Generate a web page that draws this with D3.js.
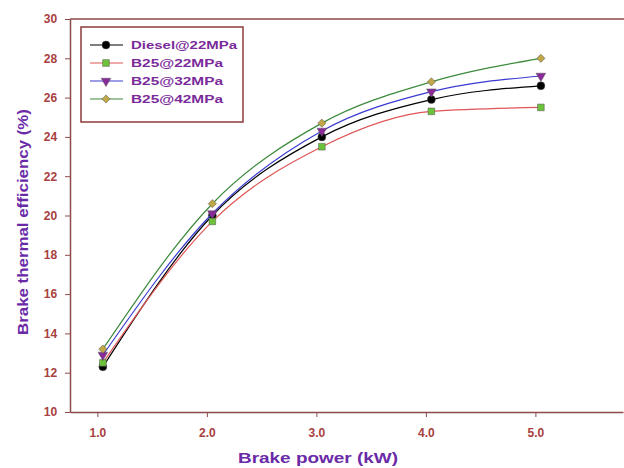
<!DOCTYPE html>
<html>
<head>
<meta charset="utf-8">
<script src="https://cdn.jsdelivr.net/npm/d3@7"></script>
<style>
  body { margin: 0; background: #fff; }
  text { font-family: "Liberation Sans", Arial, sans-serif; font-weight: bold; }
</style>
</head>
<body>
<div id="chart"></div>
<script>

// data

var brakePower = [1.05, 2.05, 3.05, 4.05, 5.05];
var xTicks = [1, 2, 3, 4, 5];
var yTicks = [10, 12, 14, 16, 18, 20, 22, 24, 26, 28, 30];

var seriesNames = ["Diesel@22MPa", "B25@22MPa", "B25@32MPa", "B25@42MPa"];
var diesel22 = [12.3, 20.0, 24.0, 25.9, 26.6];
var b25_22 = [12.5, 19.7, 23.5, 25.3, 25.5];
var b25_32 = [12.9, 20.1, 24.3, 26.3, 27.1];
var b25_42 = [13.2, 20.6, 24.7, 26.8, 28.0];

// styles for each series

var lineColors = ["#000000", "#e05555", "#3a3ad0", "#3c8a3c"];
var markerColors = ["#000000", "#6cc23a", "#8a2a9a", "#c0a848"];
var markerShapes = [d3.symbolCircle, d3.symbolSquare, d3.symbolTriangle, d3.symbolSquare];
var markerSizes = [50, 45, 40, 34];
var markerRotate = [0, 0, 180, 45];

var width = 624,
    height = 468,
    marginLeft = 70,
    marginTop = 19,
    marginRight = 1,
    marginBottom = 56;

var axisColor = "#8c4a4a",
    tickColor = "#a84040",
    titleColor = "#6a2aa8",
    legendText = "#7a2a9a";

var svg = d3.select("#chart")
  .append("svg")
    .attr("width", width)
    .attr("height", height);

// scales

var xScale = d3.scaleLinear().domain([0.75, 5.8]).range([marginLeft, width - marginRight]);
var yScale = d3.scaleLinear().domain([10, 30]).range([height - marginBottom, marginTop]);

// axes

var xAxis = svg.append("g")
  .attr("transform", "translate(0," + (height - marginBottom) + ")")
  .call(d3.axisBottom(xScale).tickValues(xTicks).tickFormat(d3.format(".1f")).tickSize(5).tickSizeOuter(0));

var yAxis = svg.append("g")
  .attr("transform", "translate(" + marginLeft + ",0)")
  .call(d3.axisLeft(yScale).tickValues(yTicks).tickSize(5).tickSizeOuter(0));

[xAxis, yAxis].forEach(function(ax) {
  ax.select(".domain").attr("stroke", axisColor).attr("stroke-width", 1.5);
  ax.selectAll(".tick line").attr("stroke", axisColor);
  ax.selectAll(".tick text").attr("fill", tickColor).style("font-size", "12px");
});
xAxis.selectAll(".tick text").attr("dy", "1.4em");
yAxis.selectAll(".tick text").attr("dx", "-0.4em");

// top frame line

svg.append("line")
  .attr("x1", marginLeft).attr("x2", width)
  .attr("y1", marginTop).attr("y2", marginTop)
  .attr("stroke", axisColor)
  .attr("stroke-width", 1.5);

// axis titles

svg.append("text")
  .attr("x", 318)
  .attr("y", height - 5)
  .attr("text-anchor", "middle")
  .attr("fill", titleColor)
  .attr("textLength", 160)
  .attr("lengthAdjust", "spacingAndGlyphs")
  .style("font-size", "15px")
  .text("Brake power (kW)");

svg.append("text")
  .attr("transform", "translate(28,222) rotate(-90)")
  .attr("text-anchor", "middle")
  .attr("fill", titleColor)
  .attr("textLength", 226)
  .attr("lengthAdjust", "spacingAndGlyphs")
  .style("font-size", "15px")
  .text("Brake thermal efficiency (%)");

// lines and markers

var allSeries = [diesel22, b25_22, b25_32, b25_42];

var line = d3.line()
  .x(function(d, i) { return xScale(brakePower[i]); })
  .y(function(d) { return yScale(d); })
  .curve(d3.curveMonotoneX);

allSeries.forEach(function(values, s) {

  svg.append("path")
    .datum(values)
    .attr("fill", "none")
    .attr("stroke", lineColors[s])
    .attr("stroke-width", 1.2)
    .attr("d", line);

  svg.selectAll(".marker" + s)
    .data(values)
    .enter()
    .append("path")
      .attr("class", "marker" + s)
      .attr("d", d3.symbol().type(markerShapes[s]).size(markerSizes[s]))
      .attr("transform", function(d, i) {
        return "translate(" + xScale(brakePower[i]) + "," + yScale(d) + ") rotate(" + markerRotate[s] + ")";
      })
      .attr("fill", markerColors[s])
      .attr("stroke", "#555")
      .attr("stroke-width", 0.5);
});

// legend

var legend = svg.append("g");

legend.append("rect")
  .attr("x", 81).attr("y", 27)
  .attr("width", 162).attr("height", 95)
  .attr("fill", "#fff")
  .attr("stroke", "#8c3a3a")
  .attr("stroke-width", 1.5);

seriesNames.forEach(function(name, s) {
  var ly = 45 + s * 18;
  legend.append("line")
    .attr("x1", 90).attr("x2", 123)
    .attr("y1", ly).attr("y2", ly)
    .attr("stroke", lineColors[s])
    .attr("stroke-width", 1.2);
  legend.append("path")
    .attr("d", d3.symbol().type(markerShapes[s]).size(markerSizes[s]))
    .attr("transform", "translate(106," + ly + ") rotate(" + markerRotate[s] + ")")
    .attr("fill", markerColors[s])
    .attr("stroke", "#555")
    .attr("stroke-width", 0.5);
  legend.append("text")
    .attr("x", 131)
    .attr("y", ly)
    .attr("dy", "0.35em")
    .attr("fill", legendText)
    .attr("textLength", name.length > 10 ? 106 : 92)
    .attr("lengthAdjust", "spacingAndGlyphs")
    .style("font-size", "11px")
    .text(name);
});

</script>
</body>
</html>
